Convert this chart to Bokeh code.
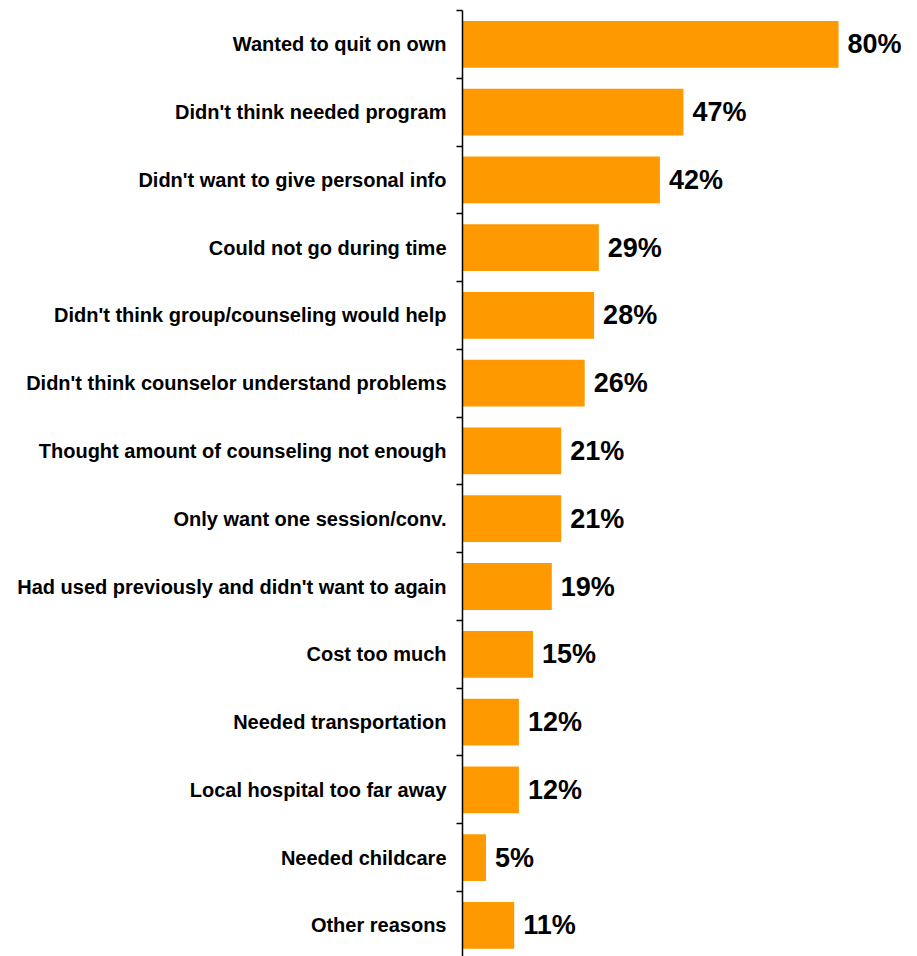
from bokeh.plotting import figure
from bokeh.models import Range1d, FixedTicker, ColumnDataSource
from bokeh.embed import file_html
from bokeh.resources import INLINE
from bokeh.core.properties import value

categories = [
    "Wanted to quit on own",
    "Didn't think needed program",
    "Didn't want to give personal info",
    "Could not go during time",
    "Didn't think group/counseling would help",
    "Didn't think counselor understand problems",
    "Thought amount of counseling not enough",
    "Only want one session/conv.",
    "Had used previously and didn't want to again",
    "Cost too much",
    "Needed transportation",
    "Local hospital too far away",
    "Needed childcare",
    "Other reasons",
]
values = [80, 47, 42, 29, 28, 26, 21, 21, 19, 15, 12, 12, 5, 11]
value_labels = [f"{v}%" for v in values]

positions = list(range(len(categories)))
boundaries = [i - 0.5 for i in range(len(categories) + 1)]

src = ColumnDataSource(dict(y=positions, v=values, lab=value_labels))

p = figure(width=917, height=956, output_backend="svg", toolbar_location=None,
           x_range=Range1d(0, 96.8), y_range=Range1d(13.46, -0.5),
           min_border_left=462, min_border_right=0, min_border_top=10, min_border_bottom=0)

p.hbar(y="y", left=0, right="v", height=0.69, source=src, color="#FF9900", line_color=None)
p.text(x="v", y="y", text="lab", source=src, x_offset=9, text_baseline="middle",
       text_align="left", text_font=value("Liberation Sans"), text_font_style="bold",
       text_font_size="27px", text_color="black")

p.xaxis.visible = False
p.xgrid.visible = False
p.ygrid.visible = False
p.outline_line_color = None

ax = p.yaxis[0]
ax.ticker = FixedTicker(ticks=positions, minor_ticks=boundaries)
ax.major_label_overrides = {i: c for i, c in zip(positions, categories)}
ax.major_tick_in = 0
ax.major_tick_out = 0
ax.minor_tick_in = 0
ax.minor_tick_out = 6
ax.minor_tick_line_color = "black"
ax.minor_tick_line_width = 1.5
ax.axis_line_color = "black"
ax.axis_line_width = 1.5
ax.major_label_standoff = 10
ax.major_label_text_font = "Liberation Sans"
ax.major_label_text_font_style = "bold"
ax.major_label_text_font_size = "20px"
ax.major_label_text_color = "black"

open("out.html", "w").write(file_html(p, INLINE))
